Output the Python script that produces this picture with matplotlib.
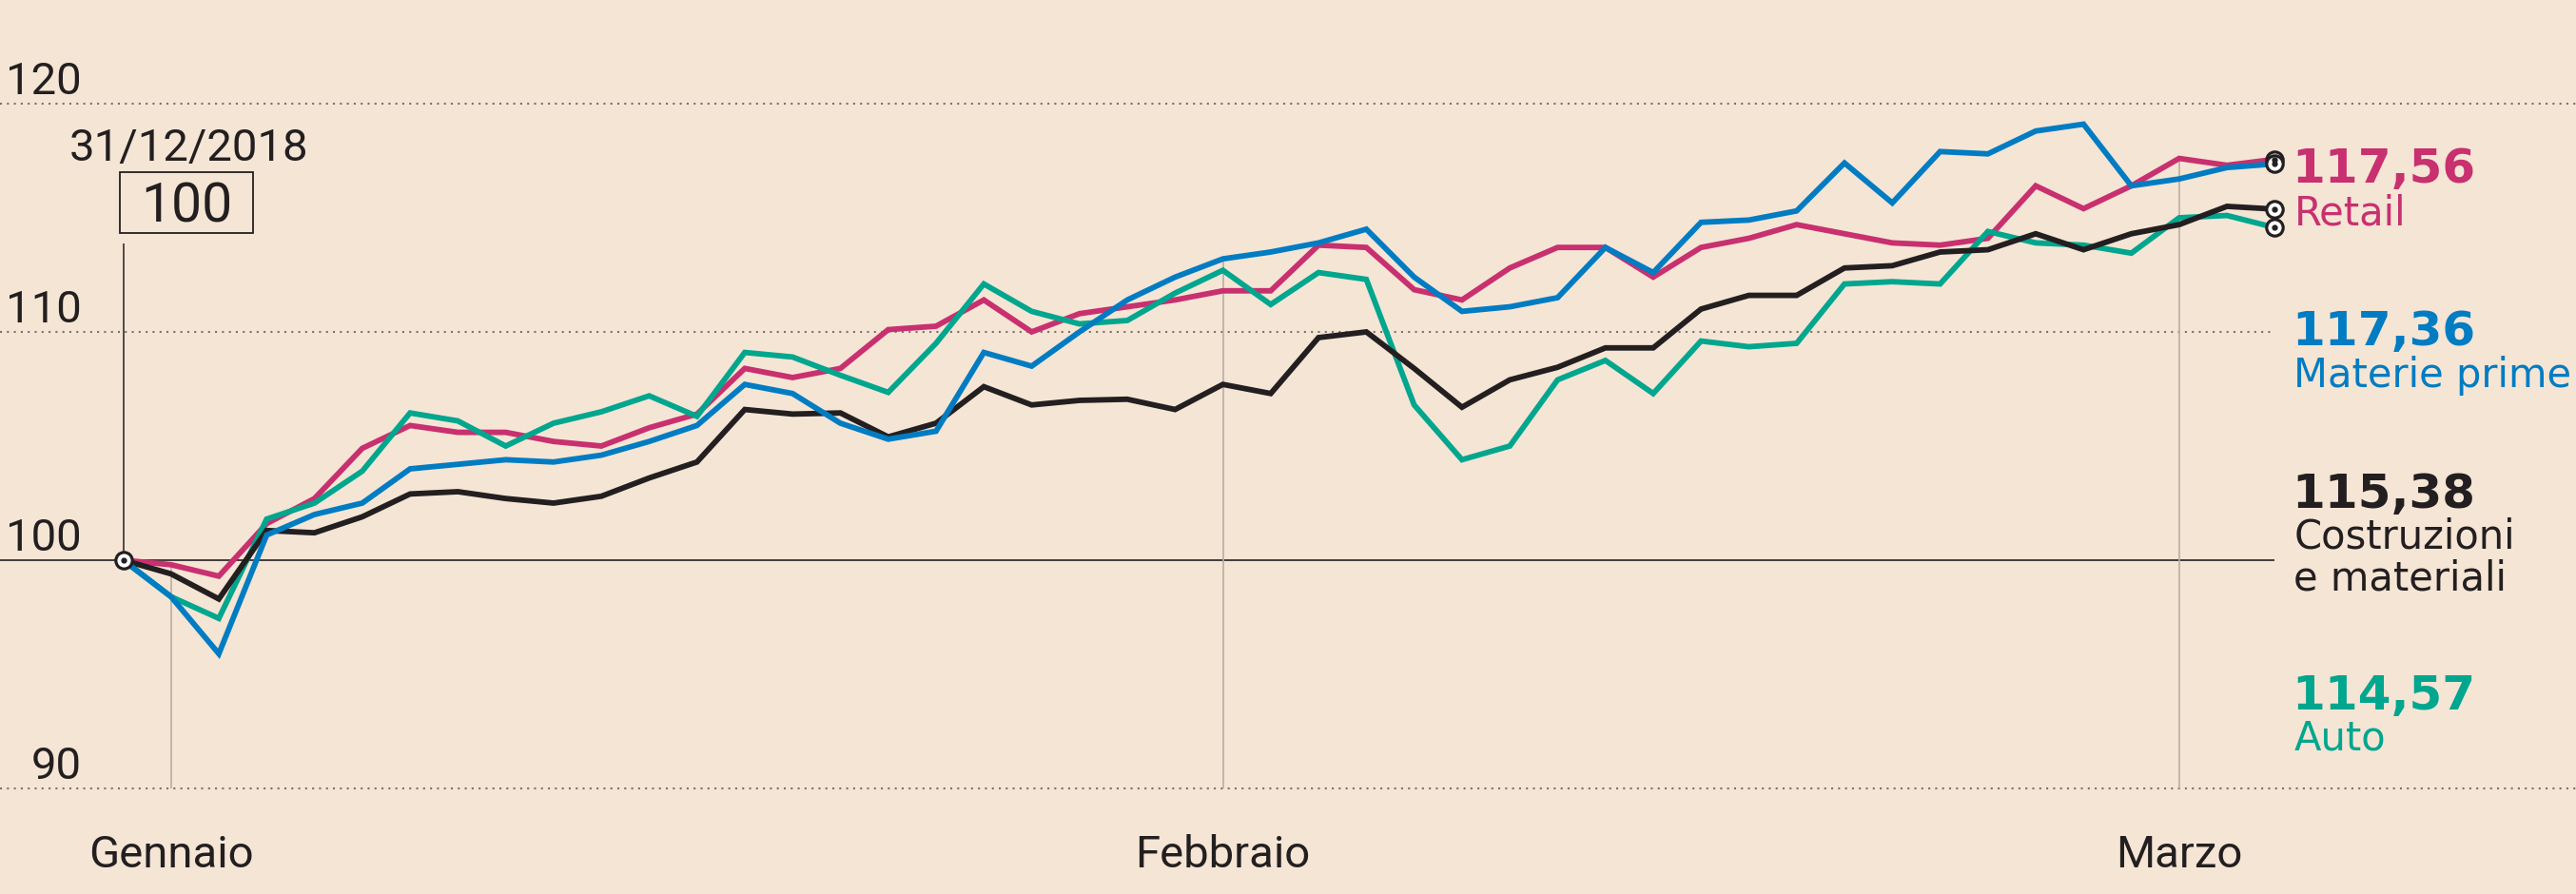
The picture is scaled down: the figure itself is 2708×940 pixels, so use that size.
import matplotlib.pyplot as plt

# indici base 100 = 31/12/2018, una seduta per punto (31/12 -> 5/3)
retail = [100.0, 99.8, 99.3, 101.6, 102.7, 104.9, 105.9, 105.6, 105.6, 105.2,
          105.0, 105.8, 106.4, 108.4, 108.0, 108.4, 110.1, 110.25, 111.4, 110.0,
          110.8, 111.1, 111.4, 111.8, 111.8, 113.8, 113.7, 111.85, 111.4, 112.8,
          113.7, 113.7, 112.4, 113.7, 114.1, 114.7, 114.3, 113.9, 113.8, 114.1,
          116.4, 115.4, 116.4, 117.6, 117.3, 117.56]
materie_prime = [100.0, 98.4, 95.9, 101.1, 102.0, 102.5, 104.0, 104.2, 104.4, 104.3,
                 104.6, 105.2, 105.9, 107.7, 107.3, 106.0, 105.3, 105.65, 109.1, 108.5,
                 110.0, 111.4, 112.4, 113.2, 113.5, 113.9, 114.5, 112.4, 110.9, 111.1,
                 111.5, 113.7, 112.6, 114.8, 114.9, 115.3, 117.4, 115.65, 117.9, 117.8,
                 118.8, 119.1, 116.4, 116.7, 117.2, 117.36]
costruzioni = [100.0, 99.4, 98.3, 101.3, 101.2, 101.9, 102.9, 103.0, 102.7, 102.5,
               102.8, 103.6, 104.3, 106.6, 106.4, 106.45, 105.4, 106.0, 107.6, 106.8,
               107.0, 107.05, 106.6, 107.7, 107.3, 109.75, 110.0, 108.4, 106.7, 107.9,
               108.45, 109.3, 109.3, 111.0, 111.6, 111.6, 112.8, 112.9, 113.5, 113.6,
               114.3, 113.6, 114.3, 114.7, 115.5, 115.38]
auto = [100.0, 98.4, 97.45, 101.8, 102.5, 103.9, 106.45, 106.1, 105.0, 106.0,
        106.5, 107.2, 106.3, 109.1, 108.9, 108.1, 107.35, 109.5, 112.1, 110.9,
        110.35, 110.5, 111.7, 112.7, 111.2, 112.6, 112.3, 106.8, 104.4, 105.0,
        107.9, 108.75, 107.3, 109.6, 109.35, 109.5, 112.1, 112.2, 112.1, 114.4,
        113.9, 113.8, 113.45, 115.0, 115.1, 114.57]

mesi = ['Gennaio', 'Febbraio', 'Marzo']
idx_mesi = [1, 23, 43]
y_ticks = [90, 100, 110, 120]
data_base = '31/12/2018'

BG = '#f5e5d5'
INK = '#231f20'
PINK = '#c8306f'
BLUE = '#007cc3'
GREEN = '#00a68e'
GRID = '#7a726b'
VLINE = '#b8aea4'

fig = plt.figure(figsize=(27.08, 9.40), dpi=100)
fig.patch.set_facecolor(BG)
ax = fig.add_axes([0, 0, 1, 1])
ax.set_facecolor(BG)
ax.set_xlim(-2.577, 51.3)
ax.set_ylim(85.375, 124.54)
ax.axis('off')

x = list(range(len(retail)))
last = x[-1]
left = -2.577

# griglia
dots = (0, (1, 2.5))
ax.axhline(120, color=GRID, lw=1.5, ls=dots, zorder=1)
ax.axhline(90, color=GRID, lw=1.5, ls=dots, zorder=1)
ax.hlines(110, left, last, color=GRID, lw=1.5, ls=dots, zorder=1)
ax.hlines(100, left, last, color=INK, lw=1.2, zorder=1)

for t in y_ticks:
    ax.text(-0.87, t + 0.4, str(t), ha='right', va='baseline', fontsize=34,
            family='Roboto', color=INK)

# linee verticali dei mesi, fino alla serie più alta
serie = [retail, auto, costruzioni, materie_prime]
for nome, i in zip(mesi, idx_mesi):
    top = max(s[i] for s in serie)
    ax.vlines(i, 90, top, color=VLINE, lw=1.2, zorder=2)
    ax.text(i, 86.55, nome, ha='center', va='baseline', fontsize=34,
            family='Roboto', color=INK)

# riferimento base 100
ax.vlines(0, 100, 113.875, color=INK, lw=1.1, zorder=2)
ax.add_patch(plt.Rectangle((-0.07, 114.33), 2.786, 2.67, fill=False,
                           ec=INK, lw=1.3, zorder=3))
ax.text(1.33, 114.83, '100', ha='center', va='baseline', fontsize=41,
        family='Roboto', color=INK)
ax.text(1.38, 117.5, data_base, ha='center', va='baseline', fontsize=34,
        family='Roboto', color=INK)

# serie
colori = [PINK, GREEN, INK, BLUE]
for s, c in zip(serie, colori):
    ax.plot(x, s, color=c, lw=4.2, solid_joinstyle='miter', zorder=4)

for s in serie:
    ax.plot(last, s[-1], 'o', ms=12.5, mfc='white', mec=INK, mew=2.3, zorder=6)
    ax.plot(last, s[-1], 'o', ms=3.5, color=INK, zorder=7)
ax.plot(0, 100, 'o', ms=12.5, mfc='white', mec=INK, mew=2.3, zorder=6)
ax.plot(0, 100, 'o', ms=3.5, color=INK, zorder=7)

# etichette a destra
etichette = [(retail, 'Retail', PINK, 116.54, [114.67]),
             (materie_prime, 'Materie prime', BLUE, 109.4, [107.6]),
             (costruzioni, 'Costruzioni\ne materiali', INK, 102.3, [100.5, 98.7]),
             (auto, 'Auto', GREEN, 93.46, [91.67])]
for s, nome, c, yv, ys in etichette:
    val = f'{s[-1]:.2f}'.replace('.', ',')
    ax.text(45.35, yv, val, ha='left', va='baseline', fontsize=36,
            fontweight='bold', family='DejaVu Sans', color=c)
    for riga, yr in zip(nome.split('\n'), ys):
        ax.text(45.4, yr, riga, ha='left', va='baseline', fontsize=30,
                family='DejaVu Sans', color=c)

fig.savefig('out.png', dpi=100, facecolor=BG)
